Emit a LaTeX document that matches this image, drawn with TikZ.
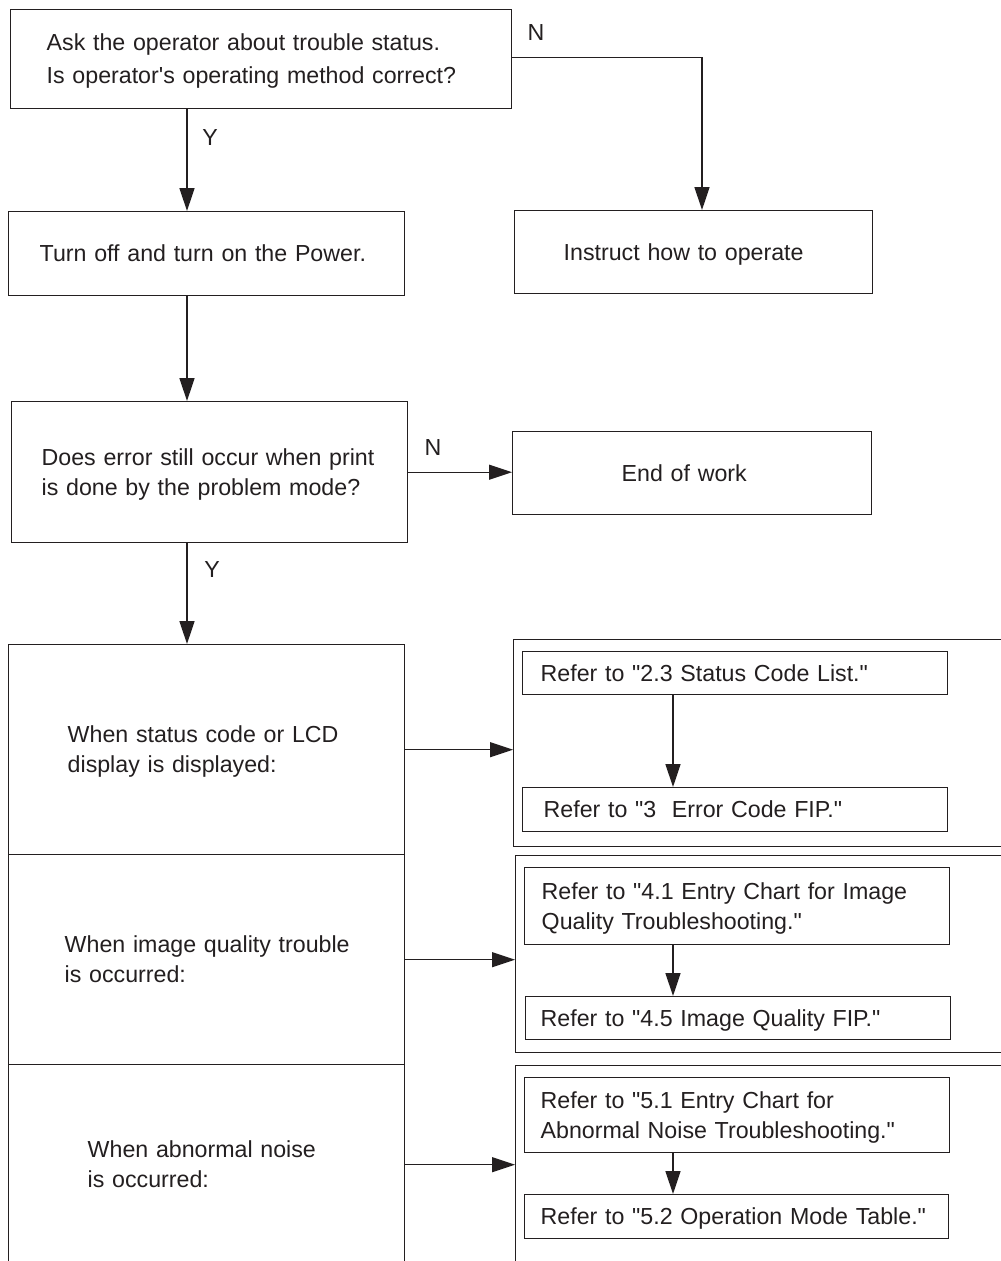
\documentclass[tikz,border=0pt]{standalone}
\usepackage{fontspec}
\setmainfont{Liberation Sans}[Ligatures=TeXOff]
\usetikzlibrary{arrows.meta}
\definecolor{ink}{RGB}{35,31,32}
\begin{document}
\begin{tikzpicture}[x=1pt, y=-1pt,
  every node/.style={text=ink},
  txt/.style={font=\fontsize{23.2}{30}\selectfont},
  box/.style={txt, draw=ink, line width=1.4pt, rectangle, anchor=north west,
    inner ysep=0pt, align=left, text height=16.5pt, text depth=0pt},
  two/.style={text depth=30pt},
  dims/.style n args={3}{minimum width=#1, minimum height=#2,
    inner xsep=#3, text width=#1-2*#3},
  frame/.style 2 args={draw=ink, line width=1.4pt, rectangle, anchor=north west,
    inner sep=0pt, minimum width=#1, minimum height=#2},
  flow/.style={draw=ink, line width=1.4pt, -{Triangle[length=23pt,width=15pt]}},
  lbl/.style={txt, inner sep=0pt}]

% page area
\useasboundingbox (0,0) rectangle (1001,1261);
\fill[white] (0,0) rectangle (1001,1261);
\clip (0,0) rectangle (1001,1261);

% upper flow
\node[box, dims={501}{99}{36}, text depth=33pt, font=\fontsize{23.2}{33}\selectfont]
  (ask) at (10,9) {Ask the operator about trouble status.\\Is operator's operating method correct?};
\node[box, dims={396}{84}{31}] (power) at (8,211) {Turn off and turn on the Power.};
\node[box, dims={358}{83}{49}] (instr) at (514,210) {Instruct how to operate};
\node[box, two, dims={396}{141}{30}] (err) at (11,401) {Does error still occur when print\\is done by the problem mode?};
\node[box, dims={359}{83}{109}] (end) at (512,431) {End of work};

% left column of cases
\node[box, two, dims={396}{210}{59}] (lcd) at (8,644) {\mbox{When status code or LCD}\\display is displayed:};
\node[box, two, dims={396}{210}{56}] (iq) at (8,854) {\mbox{When image quality trouble}\\is occurred:};
\node[box, two, dims={396}{200}{79}] (noise) at (8,1064) {\mbox{When abnormal noise}\\is occurred:};

% reference groups
\node[frame={507}{207}] (g1) at (513,639) {};
\node[frame={505}{197}] (g2) at (515,855) {};
\node[frame={505}{200}] (g3) at (515,1065) {};

\node[box, dims={425}{43}{18}] (r1a) at (522,651) {Refer to "2.3 Status Code List."};
\node[box, dims={425}{44}{21}] (r1b) at (522,787) {Refer to "3\ \ Error Code FIP."};
\node[box, two, dims={425}{77}{17}] (r2a) at (524,867) {Refer to "4.1 Entry Chart for Image\\Quality Troubleshooting."};
\node[box, dims={425}{43}{15}] (r2b) at (525,996) {Refer to "4.5 Image Quality FIP."};
\node[box, two, dims={425}{75}{16}] (r3a) at (524,1077) {Refer to "5.1 Entry Chart for\\Abnormal Noise Troubleshooting."};
\node[box, dims={424}{44}{16}] (r3b) at (524,1194) {Refer to "5.2 Operation Mode Table."};

% connector columns
\coordinate (mainx) at (187,0);
\coordinate (nx) at (702,0);
\coordinate (subx) at (673,0);

\draw[flow] (ask.south -| mainx) -- (power.north -| mainx);
\draw[flow] ([yshift=2pt]ask.east) -| (instr.north -| nx);
\draw[flow] (power.south -| mainx) -- (err.north -| mainx);
\draw[flow] (err.east) -- (err.east -| end.west);
\draw[flow] (err.south -| mainx) -- (lcd.north -| mainx);
\draw[flow] (lcd.east) -- (lcd.east -| g1.west);
\draw[flow] (iq.east) -- (iq.east -| g2.west);
\draw[flow] (noise.east) -- (noise.east -| g3.west);
\draw[flow] (r1a.south -| subx) -- (r1b.north -| subx);
\draw[flow] (r2a.south -| subx) -- (r2b.north -| subx);
\draw[flow] (r3a.south -| subx) -- (r3b.north -| subx);

% branch labels
\node[lbl] (n1) at (536,33) {N};
\node[lbl] (y1) at (210,138) {Y};
\node[lbl] (n2) at (433,448) {N};
\node[lbl] (y2) at (212,570) {Y};
\end{tikzpicture}
\end{document}
